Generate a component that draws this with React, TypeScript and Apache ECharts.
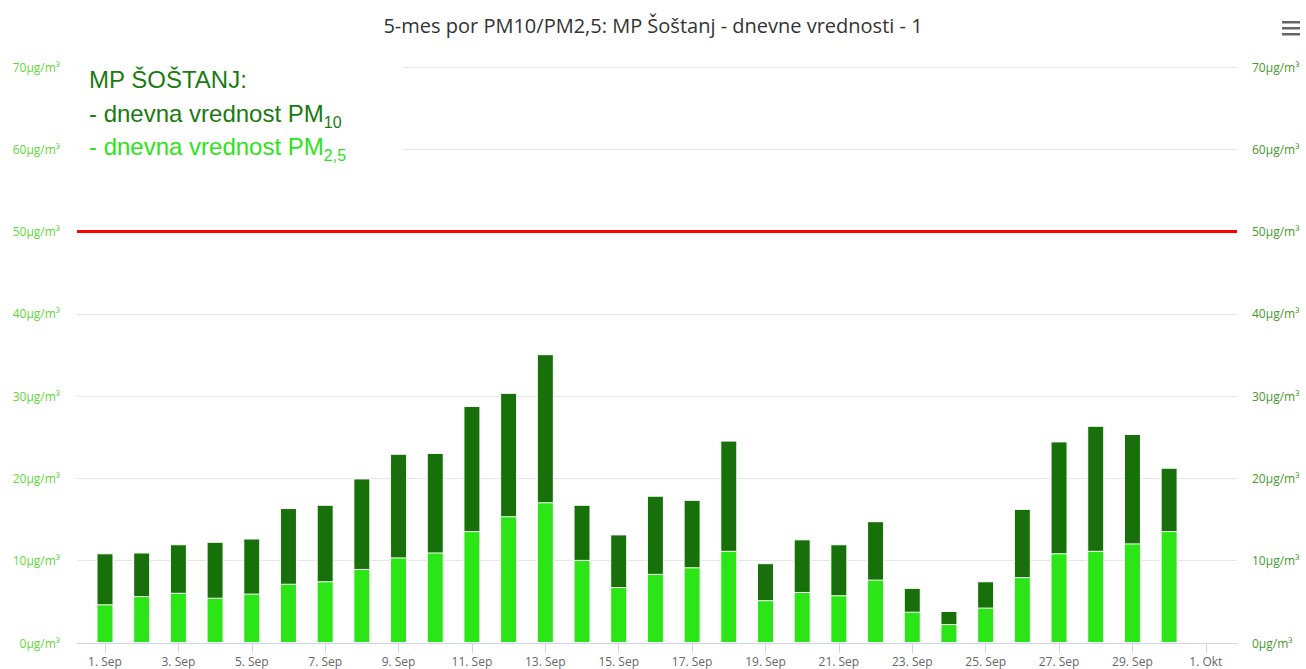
import React, { useEffect, useRef } from "react";
import * as echarts from "echarts";

const categories: string[] = [
  "1. Sep", "2. Sep", "3. Sep", "4. Sep", "5. Sep", "6. Sep", "7. Sep", "8. Sep", "9. Sep", "10. Sep",
  "11. Sep", "12. Sep", "13. Sep", "14. Sep", "15. Sep", "16. Sep", "17. Sep", "18. Sep", "19. Sep", "20. Sep",
  "21. Sep", "22. Sep", "23. Sep", "24. Sep", "25. Sep", "26. Sep", "27. Sep", "28. Sep", "29. Sep", "30. Sep",
  "1. Okt",
];

const xTickLabels: string[] = [
  "1. Sep", "3. Sep", "5. Sep", "7. Sep", "9. Sep", "11. Sep", "13. Sep", "15. Sep",
  "17. Sep", "19. Sep", "21. Sep", "23. Sep", "25. Sep", "27. Sep", "29. Sep", "1. Okt",
];

const pm10: (number | null)[] = [
  10.9, 11.0, 12.0, 12.3, 12.7, 16.4, 16.8, 20.0, 23.0, 23.1,
  28.8, 30.4, 35.1, 16.8, 13.2, 17.9, 17.4, 24.6, 9.7, 12.6,
  12.0, 14.8, 6.7, 3.9, 7.5, 16.3, 24.5, 26.4, 25.4, 21.3,
  null,
];

const pm25: (number | null)[] = [
  4.7, 5.7, 6.1, 5.5, 6.0, 7.2, 7.5, 9.0, 10.4, 11.0,
  13.6, 15.4, 17.1, 10.1, 6.8, 8.4, 9.2, 11.2, 5.2, 6.2,
  5.8, 7.7, 3.8, 2.3, 4.3, 8.0, 10.9, 11.2, 12.1, 13.6,
  null,
];

const yTicks: number[] = [0, 10, 20, 30, 40, 50, 60, 70];
const limitValue = 50;

const titleText = "5-mes por PM10/PM2,5: MP Šoštanj - dnevne vrednosti - 1";

export default function App() {
  const ref = useRef<HTMLDivElement>(null);

  useEffect(() => {
    document.body.style.margin = "0";
    if (!ref.current) return;
    const chart = echarts.init(ref.current, null, { renderer: "svg" });

    const dayOf = (label: string) => categories.indexOf(label) + 1;
    const pm10Data = categories.map((c, i) => [dayOf(c), pm10[i]]);
    const pm25Data = categories.map((c, i) => [dayOf(c), pm25[i]]);
    const tickValues = xTickLabels.map(dayOf);

    const darkGreen = "#177009";
    const brightGreen = "#2be516";
    const font = "'Open Sans', sans-serif";

    const yMin = yTicks[0];
    const yMax = yTicks[yTicks.length - 1];
    const yInterval = yTicks[1] - yTicks[0];

    chart.setOption({
      animation: false,
      backgroundColor: "#ffffff",
      title: {
        text: titleText,
        left: "center",
        top: 10,
        textStyle: { fontFamily: font, fontSize: 20, fontWeight: "normal", color: "#333333" },
      },
      grid: { left: 77, right: 69, top: 67, bottom: 26, containLabel: false },
      xAxis: {
        type: "value",
        min: 0.237,
        max: 31.85,
        splitLine: { show: false },
        axisLine: { show: true, lineStyle: { color: "#ccd6eb", width: 1 } },
        axisTick: { show: true, length: 10, lineStyle: { color: "#ccd6eb" }, customValues: tickValues },
        axisLabel: {
          customValues: tickValues,
          margin: 12,
          fontFamily: font,
          fontSize: 12,
          color: "#666666",
          formatter: (v: number) => categories[Math.round(v) - 1] ?? "",
        },
      },
      yAxis: [
        {
          type: "value",
          min: yMin,
          max: yMax,
          interval: yInterval,
          position: "left",
          axisLine: { show: false },
          axisTick: { show: false },
          splitLine: { show: true, lineStyle: { color: "#e6e6e6", width: 1 } },
          axisLabel: {
            margin: 17,
            fontFamily: font,
            fontSize: 12,
            color: "#5fd83a",
            formatter: (v: number) => `${v}µg/m³`,
          },
        },
        {
          type: "value",
          min: yMin,
          max: yMax,
          interval: yInterval,
          position: "right",
          axisLine: { show: false },
          axisTick: { show: false },
          splitLine: { show: false },
          axisLabel: {
            margin: 15,
            fontFamily: font,
            fontSize: 12,
            color: "#479a2c",
            formatter: (v: number) => `${v}µg/m³`,
          },
        },
      ],
      series: [
        {
          name: "PM10",
          type: "bar",
          xAxisIndex: 0,
          yAxisIndex: 0,
          data: pm10Data,
          barWidth: 17,
          barGap: "-100%",
          itemStyle: { color: darkGreen, borderColor: "#ffffff", borderWidth: 1 },
          markLine: {
            silent: true,
            symbol: ["none", "none"],
            label: { show: false },
            lineStyle: { color: "#ff0000", width: 3, type: "solid" },
            data: [{ yAxis: limitValue }],
            z: 10,
          },
        },
        {
          name: "PM2,5",
          type: "bar",
          xAxisIndex: 0,
          yAxisIndex: 0,
          data: pm25Data,
          barWidth: 17,
          barGap: "-100%",
          itemStyle: { color: brightGreen, borderColor: "#ffffff", borderWidth: 1 },
        },
      ],
      graphic: [
        {
          type: "rect",
          left: 78,
          top: 56,
          shape: { width: 325, height: 112 },
          style: { fill: "#ffffff" },
          z: 50,
          silent: true,
        },
        {
          type: "text",
          x: 89,
          y: 63,
          z: 51,
          silent: true,
          style: {
            text:
              "{a|MP ŠOŠTANJ:}\n{a|- dnevna vrednost PM}{as|10}\n{b|- dnevna vrednost PM}{bs|2,5}",
            verticalAlign: "top",
            align: "left",
            rich: {
              a: { fontFamily: "'Liberation Sans', Arial, sans-serif", fontSize: 24, lineHeight: 33.5, fill: "#1b7a12", color: "#1b7a12" },
              as: { fontFamily: "'Liberation Sans', Arial, sans-serif", fontSize: 16, lineHeight: 20, verticalAlign: "bottom", fill: "#1b7a12", color: "#1b7a12" },
              b: { fontFamily: "'Liberation Sans', Arial, sans-serif", fontSize: 24, lineHeight: 33.5, fill: "#2ee31b", color: "#2ee31b" },
              bs: { fontFamily: "'Liberation Sans', Arial, sans-serif", fontSize: 16, lineHeight: 20, verticalAlign: "bottom", fill: "#2ee31b", color: "#2ee31b" },
            },
          },
        },
        {
          type: "group",
          left: 1282,
          top: 21,
          silent: true,
          children: [
            { type: "rect", shape: { x: 0, y: 0, width: 18, height: 2.5 }, style: { fill: "#666666" } },
            { type: "rect", shape: { x: 0, y: 6, width: 18, height: 2.5 }, style: { fill: "#666666" } },
            { type: "rect", shape: { x: 0, y: 12, width: 18, height: 2.5 }, style: { fill: "#666666" } },
          ],
        },
      ],
    });

    return () => chart.dispose();
  }, []);

  return <div ref={ref} style={{ width: 1306, height: 669 }} />;
}
